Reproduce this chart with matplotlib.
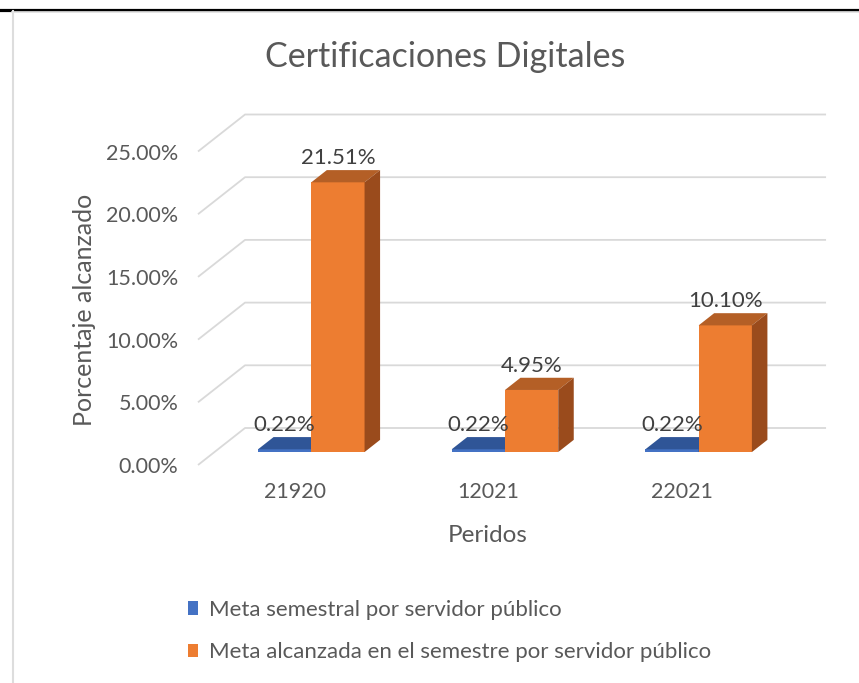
import matplotlib
matplotlib.use('Agg')
import matplotlib.pyplot as plt
from matplotlib.patches import Polygon, Patch
from matplotlib.lines import Line2D

# ---- data ----
categories = ['21920', '12021', '22021']
meta_semestral = [0.22, 0.22, 0.22]
meta_alcanzada = [21.51, 4.95, 10.10]
series_names = ['Meta semestral por servidor público',
                'Meta alcanzada en el semestre por servidor público']
y_ticks = [0, 5, 10, 15, 20, 25]
y_tick_labels = ['0.00%', '5.00%', '10.00%', '15.00%', '20.00%', '25.00%']
title = 'Certificaciones Digitales'
x_title = 'Peridos'
y_title = 'Porcentaje alcanzado'

# ---- style ----
FONT = 'Lato'
plt.rcParams['font.family'] = [FONT, 'DejaVu Sans']
TXT = '#595959'
GRID = '#D9D9D9'
BLUE, BLUE_TOP, BLUE_SIDE = '#4472C4', '#2F5597', '#2A4C8A'
ORANGE, ORANGE_TOP, ORANGE_SIDE = '#ED7D31', '#B45F26', '#9A4B1C'

W, H = 859, 683
fig = plt.figure(figsize=(W / 100, H / 100), dpi=100)
ax = fig.add_axes([198 / W, 218 / H, 581 / W, 313.5 / H])
ax.set_xlim(-0.5, 2.5)
ax.set_ylim(0, 25)
ax.set_facecolor('none')
for s in ax.spines.values():
    s.set_visible(False)

# pseudo-3D projection (depth vector in data units)
DX = 47 / 193.5
DY = 37 / 12.54
def P(x, y, d):
    return (x + d * DX, y + d * DY)

# gridlines: left wall diagonal + back wall horizontal
for t in y_ticks:
    pts = [P(-0.5, t, 0), P(-0.5, t, 1), P(2.5, t, 1)]
    ax.plot([p[0] for p in pts], [p[1] for p in pts], color=GRID, lw=1.3,
            clip_on=False, zorder=1, solid_capstyle='butt')

BW = 0.275
D1, D2 = 0.35, 0.68

def bar3d(x0, v, front, top, side, z):
    ax.bar(x0 + D1 * DX, v, width=BW, bottom=D1 * DY, align='edge',
           color=front, zorder=z, clip_on=False, linewidth=0)
    topf = [P(x0, v, D1), P(x0 + BW, v, D1), P(x0 + BW, v, D2), P(x0, v, D2)]
    ax.add_patch(Polygon(topf, closed=True, facecolor=top, edgecolor='none',
                         zorder=z, clip_on=False))
    sidef = [P(x0 + BW, 0, D1), P(x0 + BW, v, D1), P(x0 + BW, v, D2), P(x0 + BW, 0, D2)]
    ax.add_patch(Polygon(sidef, closed=True, facecolor=side, edgecolor='none',
                         zorder=z, clip_on=False))

def label(x0, v, txt):
    xc = P(x0 + BW / 2, v, D1)[0]
    yc = P(x0, v, D2)[1]
    ax.annotate(txt, (xc, yc), xytext=(0, 1.5), textcoords='offset points',
                ha='center', va='bottom', fontsize=16, color='#404040',
                zorder=10, annotation_clip=False)

for i in range(len(categories)):
    bar3d(i - BW, meta_semestral[i], BLUE, BLUE_TOP, BLUE_SIDE, 2 + i * 2)
    bar3d(i, meta_alcanzada[i], ORANGE, ORANGE_TOP, ORANGE_SIDE, 3 + i * 2)
for i in range(len(categories)):
    label(i - BW, meta_semestral[i], f'{meta_semestral[i]:.2f}%')
    label(i, meta_alcanzada[i], f'{meta_alcanzada[i]:.2f}%')

ax.set_yticks(y_ticks, y_tick_labels)
ax.set_xticks(range(len(categories)), categories)
ax.tick_params(axis='both', length=0, labelsize=15.5, labelcolor=TXT)
ax.tick_params(axis='y', pad=14)
ax.tick_params(axis='x', pad=12)

# titles
fig.text(445 / W, 1 - 57 / H, title, ha='center', va='center', fontsize=24.5, color=TXT)
fig.text(488 / W, 1 - 535 / H, x_title, ha='center', va='center', fontsize=17.5, color=TXT)
fig.text(84 / W, 1 - 310 / H, y_title, ha='center', va='center', rotation=90,
         fontsize=18, color=TXT)

# legend
handles = [Patch(facecolor=BLUE, edgecolor='none'), Patch(facecolor=ORANGE, edgecolor='none')]
leg = fig.legend(handles, series_names, loc='upper left',
                 bbox_to_anchor=(168 / W, 1 - 580 / H), frameon=False,
                 fontsize=16, handlelength=0.45, handleheight=0.55,
                 handletextpad=0.5, labelspacing=1.0)
for t in leg.get_texts():
    t.set_color(TXT)

# frame lines
fig.add_artist(Line2D([0, 1], [1 - 9.5 / H] * 2, color='black', lw=2.3))
fig.add_artist(Line2D([13 / W, 13 / W], [0, 1 - 11 / H], color='#DDDDDD', lw=1.5))
fig.add_artist(Line2D([12 / W, 1], [1 - 12 / H] * 2, color='#E4E4E4', lw=1.2))

fig.savefig('out.png', dpi=100, facecolor='white')
